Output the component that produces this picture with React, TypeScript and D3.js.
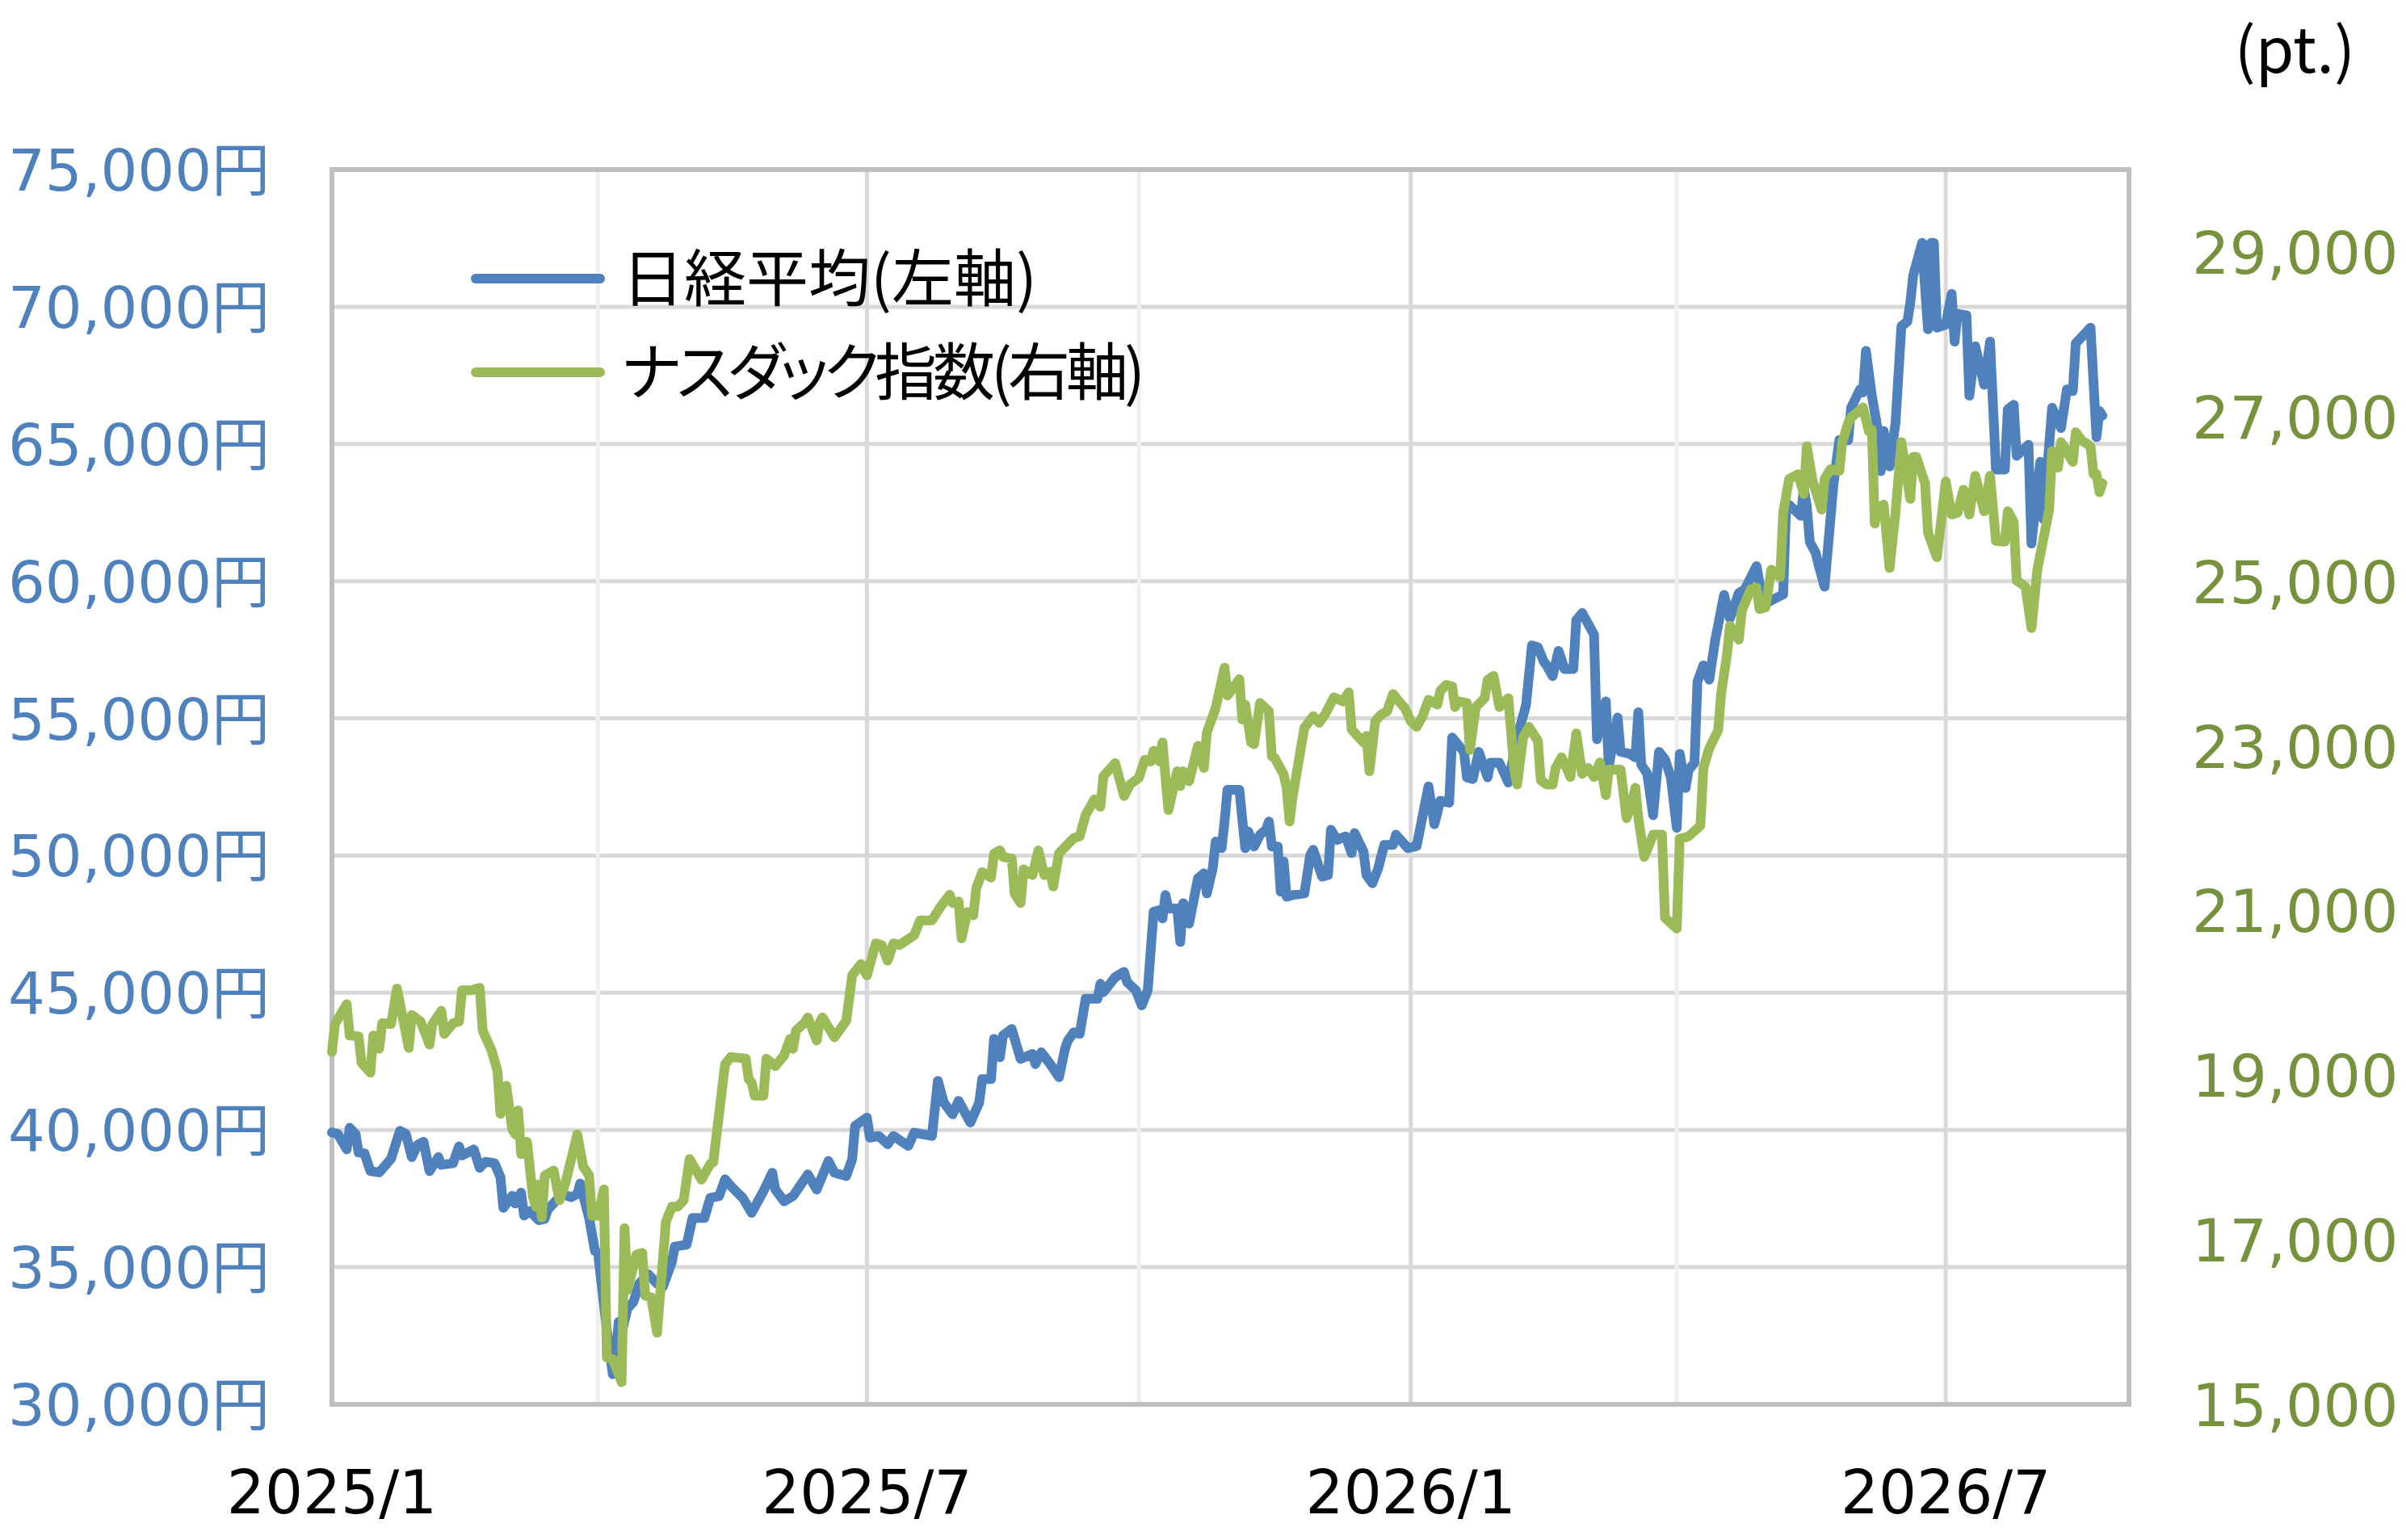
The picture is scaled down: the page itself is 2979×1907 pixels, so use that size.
import React, { useEffect } from "react";
import * as d3 from "d3";

// ---------- data (day offset from 2025/1/1, value) ----------
const nikkeiPoints: [number, number][] = [
  [0, 39910], [2, 39850], [5, 39290], [6, 40080], [8, 39850], [9, 39180], [11, 39150], [13, 38500],
  [16, 38450], [20, 38950], [23, 39970], [25, 39850], [27, 39010], [29, 39460], [31, 39570], [33, 38500],
  [36, 39010], [37, 38730], [41, 38790], [43, 39400], [44, 39070], [48, 39290], [50, 38620], [52, 38840],
  [55, 38790], [57, 38280], [58, 37160], [61, 37600], [62, 37320], [64, 37720], [65, 36880], [67, 37040],
  [70, 36710], [72, 36760], [73, 37100], [76, 37440], [78, 37660], [81, 37550], [83, 37660], [84, 38050],
  [86, 37200], [87, 36800], [89, 35580], [90, 35530], [93, 32720], [95, 31100], [96, 31700], [97, 33000],
  [98, 32600], [100, 33500], [102, 33730], [104, 34400], [107, 34740], [110, 34400], [112, 34290],
  [115, 35190], [116, 35750], [119, 35800], [120, 35820], [122, 36790], [126, 36790], [128, 37520],
  [131, 37590], [133, 38200], [135, 37950], [139, 37520], [142, 36980], [146, 37770], [149, 38440],
  [150, 37830], [153, 37400], [156, 37590], [161, 38380], [164, 37830], [168, 38870], [170, 38440],
  [174, 38320], [176, 38930], [177, 40150], [181, 40450], [182, 39720], [185, 39780], [188, 39480],
  [190, 39780], [195, 39420], [197, 39900], [203, 39780], [205, 41790], [207, 41000], [210, 40570],
  [212, 41060], [216, 40270], [219, 41000], [220, 41850], [223, 41850], [224, 43320], [226, 42650],
  [227, 43440], [230, 43680], [233, 42590], [237, 42770], [238, 42400], [240, 42830], [243, 42400],
  [246, 41920], [248, 42950], [249, 43260], [251, 43560], [253, 43500], [255, 44780], [259, 44780],
  [260, 45330], [261, 45020], [265, 45570], [268, 45760], [269, 45390], [272, 45090], [274, 44540],
  [276, 45090], [278, 47950], [280, 48010], [281, 47710], [282, 48560], [283, 48070], [286, 48070],
  [287, 46850], [288, 48260], [290, 47520], [293, 49170], [295, 49350], [296, 48620], [298, 49540],
  [299, 50510], [301, 50270], [302, 51240], [303, 52400], [307, 52400], [309, 50270], [310, 50880],
  [312, 50330], [314, 50760], [316, 50940], [317, 51240], [318, 50330], [320, 50330], [321, 48680],
  [322, 49780], [323, 48500], [325, 48560], [329, 48620], [331, 50020], [332, 50210], [335, 49230],
  [337, 49290], [338, 50940], [340, 50570], [343, 50700], [345, 50090], [346, 50820], [349, 50150],
  [350, 49290], [352, 48990], [354, 49540], [356, 50390], [359, 50390], [360, 50760], [364, 50270],
  [367, 50350], [371, 52520], [373, 51140], [375, 52000], [378, 51930], [379, 54300], [383, 53780],
  [384, 52850], [386, 52790], [388, 53780], [391, 52850], [392, 53380], [395, 53380], [398, 52660],
  [401, 54300], [404, 55490], [406, 57660], [408, 57590], [410, 57070], [411, 56930], [413, 56540],
  [415, 57460], [417, 56800], [420, 56800], [421, 58580], [423, 58840], [427, 58050], [428, 54240],
  [431, 55620], [432, 53250], [435, 55030], [436, 53780], [439, 53710], [441, 53580], [442, 55220],
  [443, 53310], [445, 52990], [447, 51470], [449, 53780], [451, 53510], [453, 52850], [455, 51010],
  [456, 53710], [458, 52460], [459, 53120], [461, 53380], [462, 56340], [464, 56930], [466, 56410],
  [468, 57850], [471, 59500], [473, 58640], [476, 59570], [478, 59700], [482, 60550], [484, 59300],
  [486, 59240], [491, 59520], [492, 62720], [493, 62780], [497, 62380], [498, 63390], [499, 62720],
  [500, 61430], [502, 61030], [503, 60580], [505, 59800], [508, 63510], [510, 65140], [513, 65140],
  [514, 66320], [517, 66990], [518, 66880], [519, 68390], [521, 66760], [523, 65530], [524, 64010],
  [525, 65470], [527, 64180], [529, 65750], [531, 69290], [533, 69460], [534, 70140], [535, 71150],
  [538, 72330], [539, 70700], [540, 69180], [541, 72330], [542, 72330], [543, 69240], [546, 69350],
  [548, 70470], [549, 68730], [550, 69740], [553, 69690], [554, 66760], [556, 68560], [559, 67160],
  [561, 68730], [563, 64070], [566, 64070], [567, 66260], [569, 66430], [570, 64570], [574, 64970],
  [575, 61370], [578, 64350], [579, 62270], [582, 66320], [585, 65580], [587, 66990], [589, 66930],
  [590, 68670], [595, 69240], [597, 65250], [598, 66200], [599, 66030],
];

const nasdaqPoints: [number, number][] = [
  [0, 19280], [1, 19620], [5, 19860], [6, 19480], [9, 19470], [10, 19150], [13, 19030], [14, 19480],
  [16, 19320], [17, 19630], [20, 19620], [22, 20050], [26, 19330], [27, 19730], [30, 19650], [33, 19370],
  [34, 19620], [37, 19780], [38, 19500], [41, 19630], [43, 19650], [44, 20030], [47, 20030], [50, 20060],
  [51, 19540], [54, 19300], [56, 19050], [57, 18530], [59, 18870], [61, 18340], [62, 18280], [63, 18570],
  [64, 18040], [66, 18190], [68, 17520], [69, 17400], [70, 17670], [71, 17270], [72, 17780], [75, 17840],
  [77, 17480], [79, 17690], [83, 18280], [85, 17890], [87, 17780], [88, 17290], [90, 17290], [92, 17610],
  [93, 15570], [95, 15550], [98, 15270], [99, 17140], [100, 16390], [103, 16820], [105, 16840],
  [106, 16320], [108, 16300], [110, 15870], [113, 17220], [115, 17400], [117, 17400], [119, 17480],
  [121, 17980], [125, 17730], [128, 17920], [129, 17940], [133, 19130], [135, 19220], [140, 19200],
  [141, 18950], [142, 18910], [143, 18750], [146, 18750], [147, 19200], [150, 19110], [153, 19240],
  [155, 19440], [156, 19320], [157, 19540], [160, 19640], [161, 19700], [164, 19420], [165, 19640],
  [166, 19700], [168, 19580], [170, 19460], [174, 19660], [175, 19930], [176, 20210], [179, 20350],
  [181, 20210], [184, 20600], [186, 20580], [188, 20390], [190, 20600], [192, 20580], [197, 20700],
  [199, 20880], [203, 20880], [206, 21050], [209, 21190], [210, 21090], [212, 21110], [213, 20660],
  [215, 20980], [217, 20940], [218, 21270], [220, 21465], [223, 21400], [224, 21690], [226, 21730],
  [227, 21650], [230, 21630], [231, 21200], [233, 21090], [234, 21500], [236, 21450], [237, 21430],
  [239, 21730], [241, 21430], [243, 21470], [244, 21290], [246, 21695], [251, 21880], [253, 21900],
  [255, 22160], [258, 22350], [260, 22260], [261, 22630], [265, 22790], [268, 22390], [270, 22530],
  [273, 22610], [275, 22830], [277, 22810], [278, 22940], [280, 22810], [281, 23040], [283, 22220],
  [286, 22690], [287, 22510], [288, 22690], [290, 22570], [293, 23000], [295, 22730], [296, 23160],
  [299, 23460], [302, 23950], [303, 23610], [307, 23810], [308, 23320], [309, 23500], [311, 23040],
  [312, 23020], [314, 23520], [317, 23420], [318, 22870], [319, 22850], [322, 22650], [323, 22490],
  [324, 22080], [325, 22370], [329, 23220], [332, 23360], [334, 23280], [336, 23380], [339, 23590],
  [342, 23540], [344, 23650], [345, 23200], [349, 23040], [350, 23120], [351, 22690], [353, 23300],
  [355, 23380], [357, 23420], [359, 23630], [361, 23540], [363, 23460], [365, 23300], [367, 23230],
  [369, 23360], [371, 23560], [374, 23500], [375, 23670], [377, 23740], [379, 23720], [380, 23470],
  [381, 23540], [384, 23520], [385, 22950], [387, 23470], [390, 23580], [391, 23800], [393, 23850],
  [395, 23470], [398, 23580], [400, 22710], [401, 22530], [403, 23100], [405, 23230], [408, 23060],
  [409, 22580], [411, 22530], [413, 22530], [414, 22730], [416, 22860], [418, 22710], [419, 22620],
  [421, 23150], [423, 22660], [425, 22730], [427, 22620], [429, 22800], [431, 22400], [432, 22710],
  [436, 22710], [438, 22120], [440, 22330], [441, 22490], [442, 22120], [444, 21650], [446, 21830],
  [447, 21920], [450, 21920], [451, 20910], [455, 20780], [456, 21870], [459, 21900], [463, 22030],
  [464, 22730], [466, 22970], [469, 23190], [470, 23630], [472, 24110], [473, 24460], [476, 24290],
  [477, 24640], [480, 24900], [482, 24920], [483, 24660], [485, 24680], [487, 25140], [490, 25050],
  [491, 25830], [493, 26240], [496, 26300], [498, 26060], [499, 26640], [501, 26210], [504, 25870],
  [505, 26240], [507, 26360], [510, 26340], [511, 26690], [513, 26920], [514, 26990], [518, 27110],
  [520, 26820], [521, 26840], [522, 25700], [523, 25890], [525, 25930], [527, 25160], [529, 25830],
  [531, 26690], [534, 26000], [535, 26510], [536, 26510], [539, 26190], [540, 25590], [543, 25290],
  [546, 26210], [548, 25810], [550, 25830], [552, 26110], [554, 25810], [556, 26280], [559, 25850],
  [561, 26280], [563, 25490], [566, 25480], [567, 25850], [569, 25720], [570, 25010], [573, 24930],
  [575, 24430], [577, 25140], [581, 25870], [582, 26580], [584, 26380], [585, 26690], [589, 26450],
  [590, 26810], [592, 26710], [595, 26640], [596, 26300], [597, 26300], [598, 26080], [599, 26190],
];

const leftTicks = [30000, 35000, 40000, 45000, 50000, 55000, 60000, 65000, 70000, 75000];
const rightTicks = [15000, 17000, 19000, 21000, 23000, 25000, 27000, 29000];
const xTickLabels = ["2025/1", "2025/7", "2026/1", "2026/7"];
const xTickMonths = [0, 6, 12, 18]; // months from 2025/1
const minorGridMonths = [3, 9, 15];
// legend names split into [kana part (proportional), rest]
const seriesNames: [string, string][] = [
  ["", "日経平均(左軸)"],
  ["ナスダック", "指数(右軸)"],
];
const unitLabel = "(pt.)";

// ---------- layout ----------
const W = 2979;
const H = 1907;
const M = { left: 411, right: 2636, top: 210, bottom: 1739 };
const BLUE = "#4F81BD";
const GREEN = "#9BBB59";
const LEFT_TXT = "#4F81BD";
const RIGHT_TXT = "#76923C";
const LATIN = "'DejaVu Sans', 'Noto Sans CJK JP', sans-serif";
const CJK = "'Noto Sans CJK JP', sans-serif";

const base = new Date(2025, 0, 1);
const dayToDate = (d: number) => new Date(2025, 0, 1 + d);
const monthToDate = (m: number) => new Date(2025, m, 1);

export default function App() {
  useEffect(() => {
    document.body.style.margin = "0";
  }, []);

  const x = d3.scaleTime().domain([base, new Date(2026, 8, 1)]).range([M.left, M.right]);
  const yL = d3.scaleLinear().domain([30000, 75000]).range([M.bottom, M.top]);
  const yR = d3.scaleLinear().domain([15000, 30000]).range([M.bottom, M.top]);
  const fmt = d3.format(",");

  const lineL = d3
    .line<[number, number]>()
    .x((d) => x(dayToDate(d[0])))
    .y((d) => yL(d[1]));
  const lineR = d3
    .line<[number, number]>()
    .x((d) => x(dayToDate(d[0])))
    .y((d) => yR(d[1]));

  const legendY = [345, 461];
  const legendColors = [BLUE, GREEN];

  return (
    <svg
      width={W}
      height={H}
      style={{ position: "absolute", left: 0, top: 0, background: "#fff" }}
    >
      <rect x={0} y={0} width={W} height={H} fill="#fff" />
      {/* horizontal gridlines */}
      {leftTicks.slice(1, -1).map((t) => (
        <line key={"h" + t} x1={M.left} x2={M.right} y1={yL(t)} y2={yL(t)} stroke="#D9D9D9" strokeWidth={5} />
      ))}
      {/* minor vertical gridlines */}
      {minorGridMonths.map((m) => (
        <line key={"mv" + m} x1={x(monthToDate(m))} x2={x(monthToDate(m))} y1={M.top} y2={M.bottom} stroke="#F0F0F0" strokeWidth={5} />
      ))}
      {/* major vertical gridlines */}
      {xTickMonths.slice(1).map((m) => (
        <line key={"v" + m} x1={x(monthToDate(m))} x2={x(monthToDate(m))} y1={M.top} y2={M.bottom} stroke="#D9D9D9" strokeWidth={5} />
      ))}
      {/* plot border */}
      <rect x={M.left} y={M.top} width={M.right - M.left} height={M.bottom - M.top} fill="none" stroke="#BFBFBF" strokeWidth={6} />

      {/* series */}
      <path d={lineL(nikkeiPoints) || ""} fill="none" stroke={BLUE} strokeWidth={12} strokeLinejoin="round" strokeLinecap="round" />
      <path d={lineR(nasdaqPoints) || ""} fill="none" stroke={GREEN} strokeWidth={12} strokeLinejoin="round" strokeLinecap="round" />

      {/* left axis labels */}
      {leftTicks.map((t) => (
        <text key={"l" + t} x={334} y={yL(t) + 26} textAnchor="end" fontFamily={LATIN} fontSize={72} fill={LEFT_TXT}>
          {fmt(t)}円
        </text>
      ))}
      {/* right axis labels */}
      {rightTicks.map((t) => (
        <text key={"r" + t} x={2714} y={yR(t) + 27} textAnchor="start" fontFamily={LATIN} fontSize={73} fill={RIGHT_TXT}>
          {fmt(t)}
        </text>
      ))}
      {/* x axis labels */}
      {xTickLabels.map((lab, i) => (
        <text key={lab} x={x(monthToDate(xTickMonths[i]))} y={1874} textAnchor="middle" fontFamily={LATIN} fontSize={74} fill="#000">
          {lab}
        </text>
      ))}
      {/* unit */}
      <text x={2916} y={90} textAnchor="end" fontFamily={CJK} fontSize={77} fill="#000">
        {unitLabel}
      </text>

      {/* legend */}
      {seriesNames.map((parts, i) => (
        <g key={parts.join("")}>
          <line x1={589} x2={743} y1={legendY[i]} y2={legendY[i]} stroke={legendColors[i]} strokeWidth={12} strokeLinecap="round" />
          <text x={770} y={legendY[i] + 28} fontFamily={CJK} fontSize={77} fill="#000">
            {parts[0] ? (
              <tspan style={{ fontFeatureSettings: "'palt'" }} letterSpacing={-6}>
                {parts[0]}
              </tspan>
            ) : null}
            <tspan letterSpacing={parts[0] ? -5 : 0}>{parts[1]}</tspan>
          </text>
        </g>
      ))}
    </svg>
  );
}
